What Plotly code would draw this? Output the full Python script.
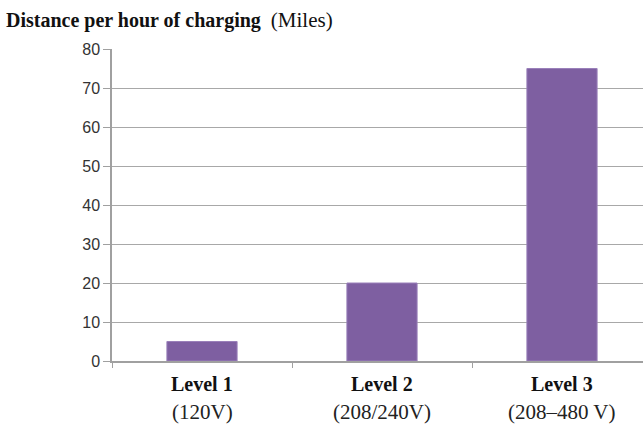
import plotly.graph_objects as go

categories = ["Level 1", "Level 2", "Level 3"]
voltages = ["(120V)", "(208/240V)", "(208–480 V)"]
miles = [5, 20, 75]
y_ticks = [0, 10, 20, 30, 40, 50, 60, 70, 80]

fig = go.Figure()
fig.add_trace(go.Bar(
    x=categories, y=miles, width=0.39,
    marker=dict(color="#7E5FA1", line=dict(color="#9A80BA", width=1)),
))

serif = "Liberation Serif, Times New Roman, serif"
for c, v in zip(categories, voltages):
    fig.add_annotation(x=c, xref="x", y=0, yref="paper", text="<b>" + c + "</b>",
                       showarrow=False, yanchor="middle", yshift=-23,
                       font=dict(family=serif, size=20, color="#111"))
    fig.add_annotation(x=c, xref="x", y=0, yref="paper", text=v,
                       showarrow=False, yanchor="middle", yshift=-51,
                       font=dict(family=serif, size=21, color="#222"))

fig.add_annotation(x=0, xref="paper", y=1, yref="paper", xshift=-108, yshift=29,
                   xanchor="left", yanchor="middle", showarrow=False,
                   text="<b>Distance per hour of charging</b>  <span style='font-size:21px'>(Miles)</span>",
                   font=dict(family=serif, size=20, color="#111"))

fig.update_layout(
    width=643, height=428,
    margin=dict(l=112, r=0, t=49, b=67),
    paper_bgcolor="white", plot_bgcolor="white",
    showlegend=False,
    xaxis=dict(range=[-0.5, 2.45], showticklabels=False, tickson="boundaries",
               ticks="outside", ticklen=5, tickcolor="#A0A0A0",
               showline=True, linecolor="#A0A0A0", linewidth=1.5,
               showgrid=False, zeroline=False),
    yaxis=dict(range=[0, 80], tickvals=y_ticks, ticks="outside", ticklen=7,
               tickcolor="#A0A0A0", showline=True, linecolor="#A0A0A0", linewidth=1.5,
               showgrid=True, gridcolor="#A8A8A8", gridwidth=1.2, zeroline=False,
               tickfont=dict(family="Liberation Sans Narrow, Arial Narrow, Liberation Sans, sans-serif",
                             size=16, color="#333")),
)

fig.write_html("out.html", config={"displayModeBar": False},
               post_script="document.body.style.margin='0';")
